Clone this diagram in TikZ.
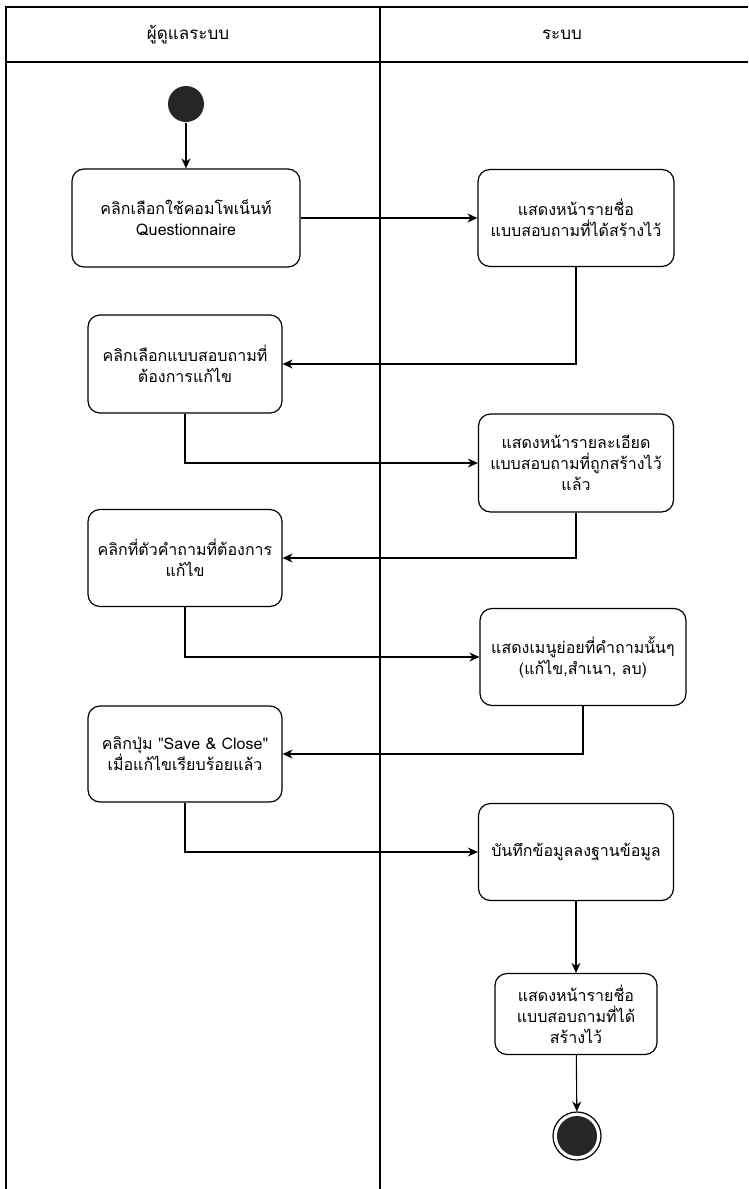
\documentclass[tikz,border=0pt]{standalone}
\usepackage{fontspec}
\setmainfont[Script=Thai, Ligatures=TeXOff]{Loma}
\usetikzlibrary{arrows.meta}

\begin{document}
\begin{tikzpicture}[x=1pt, y=-1pt, line width=1.2pt,
	act/.style={draw, rounded corners=12pt, align=center, font=\fontsize{16}{21}\selectfont, inner sep=2pt},
	flow/.style={-{Stealth[length=10pt, width=9pt]}, line width=1.1pt},
	lane/.style={line width=1.3pt}]
	\useasboundingbox (0,0) rectangle (748,1189);
	% swimlanes
	\draw[lane] (748,7) -- (6,7) -- (6,1189);
	\draw[lane] (6,62) -- (748,62);
	\draw[lane] (380,7) -- (380,1189);
	\node[font=\fontsize{17}{20}\selectfont] (admin) at (188,35) {ผู้ดูแลระบบ};
	\node[font=\fontsize{17}{20}\selectfont] (sys) at (562,35) {ระบบ};
	% activities
	\node[circle, fill=black!85, minimum size=36pt, inner sep=0pt] (start) at (186,104) {};
	\node[act, minimum width=228pt, minimum height=98pt] (a1) at (186,218) {คลิกเลือกใช้คอมโพเน็นท์\\Questionnaire};
	\node[act, minimum width=196pt, minimum height=97pt] (b1) at (576,218) {แสดงหน้ารายชื่อ\\แบบสอบถามที่ได้สร้างไว้};
	\node[act, minimum width=194pt, minimum height=98pt] (a2) at (185,364) {คลิกเลือกแบบสอบถามที่\\ต้องการแก้ไข};
	\node[act, minimum width=195pt, minimum height=98pt] (b2) at (576,463) {แสดงหน้ารายละเอียด\\แบบสอบถามที่ถูกสร้างไว้\\แล้ว};
	\node[act, minimum width=194pt, minimum height=97pt] (a3) at (185,558) {คลิกที่ตัวคำถามที่ต้องการ\\แก้ไข};
	\node[act, minimum width=206pt, minimum height=97pt] (b3) at (583,657) {แสดงเมนูย่อยที่คำถามนั้นๆ\\(แก้ไข,สำเนา, ลบ)};
	\node[act, minimum width=194pt, minimum height=96pt] (a4) at (185,754) {คลิกปุ่ม "Save \& Close"\\เมื่อแก้ไขเรียบร้อยแล้ว};
	\node[act, minimum width=195pt, minimum height=97pt] (b4) at (576,852) {บันทึกข้อมูลลงฐานข้อมูล};
	\node[act, minimum width=162pt, minimum height=81pt] (b5) at (576,1014) {แสดงหน้ารายชื่อ\\แบบสอบถามที่ได้\\สร้างไว้};
	\node[circle, draw, line width=1.2pt, minimum size=48pt, inner sep=0pt] (stop) at (577,1136) {};
	\node[circle, fill=black!85, minimum size=40pt, inner sep=0pt] at (stop) {};
	% flows
	\draw[flow] (start) -- (a1);
	\draw[flow] (a1) -- (b1);
	\draw[flow] (b1.south) |- (a2.east);
	\draw[flow] (a2.south) |- (b2.west);
	\draw[flow] (b2.south) |- (a3.east);
	\draw[flow] (a3.south) |- (b3.west);
	\draw[flow] (b3.south) |- (a4.east);
	\draw[flow] (a4.south) |- (b4.west);
	\draw[flow] (b4) -- (b5);
	\draw[flow] (b5) -- (stop);
\end{tikzpicture}
\end{document}
